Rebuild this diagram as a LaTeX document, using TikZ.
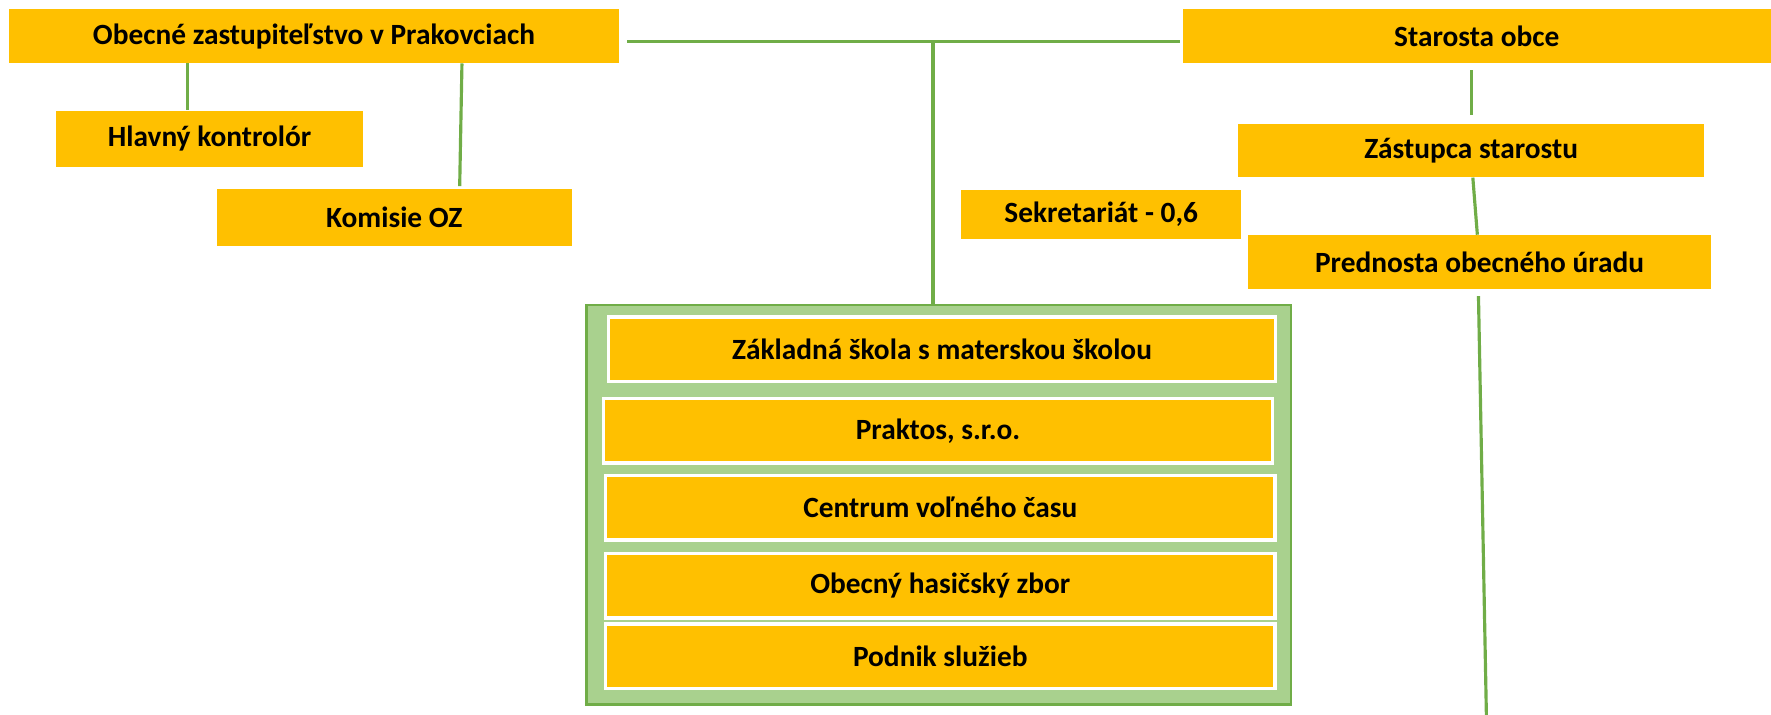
\documentclass[tikz,border=0pt]{standalone}
\usepackage{fontspec}
\setmainfont{Carlito}
\definecolor{gold}{HTML}{FFC000}
\definecolor{leaf}{HTML}{70AD47}
\definecolor{pale}{HTML}{A9D18E}
\begin{document}
\begin{tikzpicture}[x=1pt,y=-1pt,
	box/.style={fill=gold, inner sep=0pt, font=\fontsize{26}{30}\selectfont\bfseries},
	unit/.style={box, draw=white, line width=3pt},
	conn/.style={draw=leaf, line width=2.8pt}]
		\useasboundingbox (0,0) rectangle (1568,633);
		\node[box, minimum width=540, minimum height=48] (oz) at (278,32) {Obecné zastupiteľstvo v Prakovciach};
		\node[box, minimum width=521, minimum height=48] (sta) at (1307.5,32) {Starosta obce};
		\node[box, minimum width=271, minimum height=50] (hk) at (185.5,123) {Hlavný kontrolór};
		\node[box, minimum width=314, minimum height=51] (koz) at (349,192.5) {Komisie OZ};
		\node[box, minimum width=413, minimum height=47] (zas) at (1302.5,133.5) {Zástupca starostu};
		\node[box, minimum width=248, minimum height=44] (sek) at (975,190) {Sekretariát - 0,6};
		\node[box, minimum width=410, minimum height=48] (pre) at (1310,232) {Prednosta obecného úradu};
		\node[draw=leaf, fill=pale, line width=2.5pt, minimum width=624, minimum height=354] (org) at (831,447) {};
		\node[unit, minimum width=591, minimum height=57] (zs) at (834,309) {Základná škola s materskou školou};
		\node[unit, minimum width=592, minimum height=57] (pr) at (830.5,381.5) {Praktos, s.r.o.};
		\node[unit, minimum width=593, minimum height=57] (cvc) at (832.5,449.5) {Centrum voľného času};
		\node[unit, minimum width=593, minimum height=57] (ohz) at (832.5,518.5) {Obecný hasičský zbor};
		\node[unit, minimum width=593, minimum height=57] (ps) at (832.5,581) {Podnik služieb};
		\coordinate (j) at (826,37);
		\coordinate (end) at (1316,633);
		\draw[conn] ([xshift=7pt, yshift=-5pt]oz.east) -- ([xshift=-2pt, yshift=-5pt]sta.west);
		\draw[conn] (j) -- (org.north -| j);
		\draw[conn] ([xshift=-19.5pt]oz.south -| hk.north) -- ([xshift=-19.5pt]hk.north);
		\draw[conn] ([xshift=131pt]oz.south) -- ([xshift=58pt, yshift=2pt]koz.north);
		\draw[conn] ([yshift=-6pt]sta.south -| zas.north) -- ([yshift=8pt]zas.north);
		\draw[conn] ([xshift=1.5pt]zas.south) -- ([xshift=-2pt]pre.north);
		\draw[conn] ([xshift=-1pt, yshift=-6pt]pre.south) -- (end);
\end{tikzpicture}
\end{document}
